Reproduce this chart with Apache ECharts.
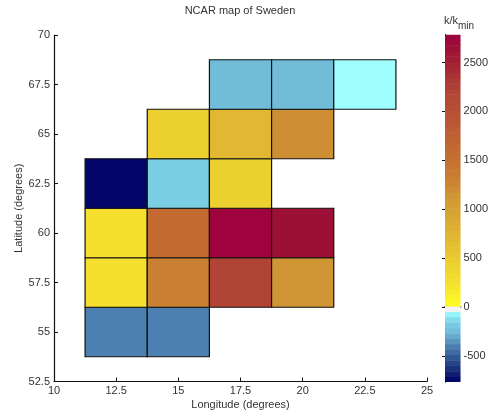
<!DOCTYPE html>
<html>
<head>
<meta charset="utf-8">
<style>html,body{margin:0;padding:0;background:#fff}#c{width:491px;height:419px}</style>
<script src="https://cdn.jsdelivr.net/npm/echarts@6/dist/echarts.min.js"></script>
</head>
<body>
<div id="c"></div>
<script>
// lon, lat (cell centres), k/kmin value
const row55 = [[12.5, 55, -400], [15, 55, -400]];
const row575 = [[12.5, 57.5, 250], [15, 57.5, 1300], [17.5, 57.5, 2200], [20, 57.5, 1150]];
const row60 = [[12.5, 60, 250], [15, 60, 1600], [17.5, 60, 2760], [20, 60, 2650]];
const row625 = [[12.5, 62.5, -750], [15, 62.5, -150], [17.5, 62.5, 450]];
const row65 = [[15, 65, 450], [17.5, 65, 700], [20, 65, 1200]];
const row675 = [[17.5, 67.5, -250], [20, 67.5, -250], [22.5, 67.5, -50]];
const cells = [].concat(row55, row575, row60, row625, row65, row675);

const cellSize = 2.5;
const colorMin = -765, colorMax = 2786, colorLevels = 64;
const barTicks = [-500, 0, 500, 1000, 1500, 2000, 2500];
const colorStops = [
  [-765, '#000066'], [-600, '#1f3a80'], [-400, '#4c7fb2'], [-250, '#71bcd8'],
  [-150, '#7bcfe5'], [-50, '#9fffff'], [-49, '#f2f2f2'], [-1, '#f2f2f2'], [0, '#ffff20'],
  [250, '#f5e030'], [450, '#ecd030'], [700, '#e2b832'], [1150, '#d09535'],
  [1300, '#ca8032'], [1600, '#c26a32'], [2200, '#b04535'], [2650, '#9c1035'], [2786, '#a00040']
];

function hex(c){return [1,3,5].map(i=>parseInt(c.substr(i,2),16));}
function colorOf(v){
  if (v <= colorStops[0][0]) return colorStops[0][1];
  for (let i=1;i<colorStops.length;i++){
    if (v <= colorStops[i][0]){
      const a=colorStops[i-1], b=colorStops[i], t=(v-a[0])/(b[0]-a[0]);
      const ca=hex(a[1]), cb=hex(b[1]);
      return 'rgb('+ca.map((x,k)=>Math.round(x+(cb[k]-x)*t)).join(',')+')';
    }
  }
  return colorStops[colorStops.length-1][1];
}
const levelStep = (colorMax-colorMin)/colorLevels;
const barLevels = [];
for (let i=0;i<colorLevels;i++){ barLevels.push([colorMin+i*levelStep, colorMin+(i+1)*levelStep]); }

const font = '"Liberation Sans", Arial, sans-serif';
const txt = {color:'#333', fontFamily:font, fontSize:11};
const lineBlack = {show:true, lineStyle:{color:'#111', width:1.2}};
const tickBlack = {show:true, inside:true, length:4, lineStyle:{color:'#111', width:1}};

const chart = echarts.init(document.getElementById('c'), null, {renderer:'canvas'});
chart.setOption({
  animation:false,
  backgroundColor:'#fff',
  title:{text:'NCAR map of Sweden', left:235, top:0, textAlign:'center',
    textStyle:{...txt, fontWeight:'normal', fontSize:11}},
  grid:[
    {left:54, width:373, top:35, height:346.5},
    {left:445, width:22, top:34.5, height:347.5}
  ],
  xAxis:[
    {gridIndex:0, type:'value', min:10, max:25, interval:2.5, position:'bottom',
     name:'Longitude (degrees)', nameLocation:'middle', nameGap:18, nameTextStyle:txt, nameMoveOverlap:false,
     axisLine:lineBlack, axisTick:tickBlack, splitLine:{show:false},
     axisLabel:{...txt, margin:4, showMinLabel:true, showMaxLabel:true}},
    {gridIndex:1, type:'value', min:0, max:1, position:'bottom',
     axisLine:{show:true, lineStyle:{color:'#222', width:1.5}}, axisTick:{show:false}, axisLabel:{show:false}, splitLine:{show:false}},
    {gridIndex:1, type:'value', min:0, max:1, position:'top',
     axisLine:{show:true, lineStyle:{color:'#444', width:1.5}}, axisTick:{show:false}, axisLabel:{show:false}, splitLine:{show:false}}
  ],
  yAxis:[
    {gridIndex:0, type:'value', min:52.5, max:70, interval:2.5, position:'left',
     name:'Latitude (degrees)', nameLocation:'middle', nameGap:30, nameRotate:90, nameTextStyle:txt, nameMoveOverlap:false,
     axisLine:lineBlack, axisTick:tickBlack, splitLine:{show:false},
     axisLabel:{...txt, margin:4, showMinLabel:true, showMaxLabel:true}},
    {gridIndex:1, type:'value', min:colorMin, max:colorMax, position:'left',
     axisLine:{show:true, lineStyle:{color:'#222', width:1}},
     axisTick:{show:true, inside:true, length:3, customValues:barTicks, lineStyle:{color:'#111'}},
     axisLabel:{show:false}, splitLine:{show:false}},
    {gridIndex:1, type:'value', min:colorMin, max:colorMax, position:'right',
     name:'k/k{s|min}', nameLocation:'end', nameGap:3, nameMoveOverlap:false,
     nameTextStyle:{...txt, align:'center', padding:[0,0,0,28],
       rich:{s:{...txt, fontSize:10, verticalAlign:'bottom', padding:[11,0,0,0]}}},
     axisLine:{show:true, lineStyle:{color:'#222', width:1}},
     axisTick:{show:true, inside:true, length:3, customValues:barTicks, lineStyle:{color:'#111'}},
     axisLabel:{...txt, margin:3, customValues:barTicks, formatter:function(v){return String(v);}}, splitLine:{show:false}}
  ],
  series:[
    {type:'custom', xAxisIndex:0, yAxisIndex:0, data:cells, clip:false, z:3,
     encode:{x:0,y:1},
     renderItem:function(params, api){
       const lon=api.value(0), lat=api.value(1), v=api.value(2), h=cellSize/2;
       const a=api.coord([lon-h, lat+h]), b=api.coord([lon+h, lat-h]);
       return {type:'rect', shape:{x:a[0], y:a[1], width:b[0]-a[0], height:b[1]-a[1]},
         style:{fill:colorOf(v), stroke:'#111', lineWidth:1.2}};
     }},
    {type:'custom', xAxisIndex:1, yAxisIndex:1, data:barLevels, clip:true, z:2,
     encode:{y:[0,1]},
     renderItem:function(params, api){
       const lo=api.value(0), hi=api.value(1);
       const a=api.coord([0, hi]), b=api.coord([1, lo]);
       return {type:'rect', shape:{x:a[0], y:a[1], width:b[0]-a[0], height:b[1]-a[1]+0.5},
         style:{fill:colorOf((lo+hi)/2), stroke:null}};
     }}
  ]
});
</script>
</body>
</html>
